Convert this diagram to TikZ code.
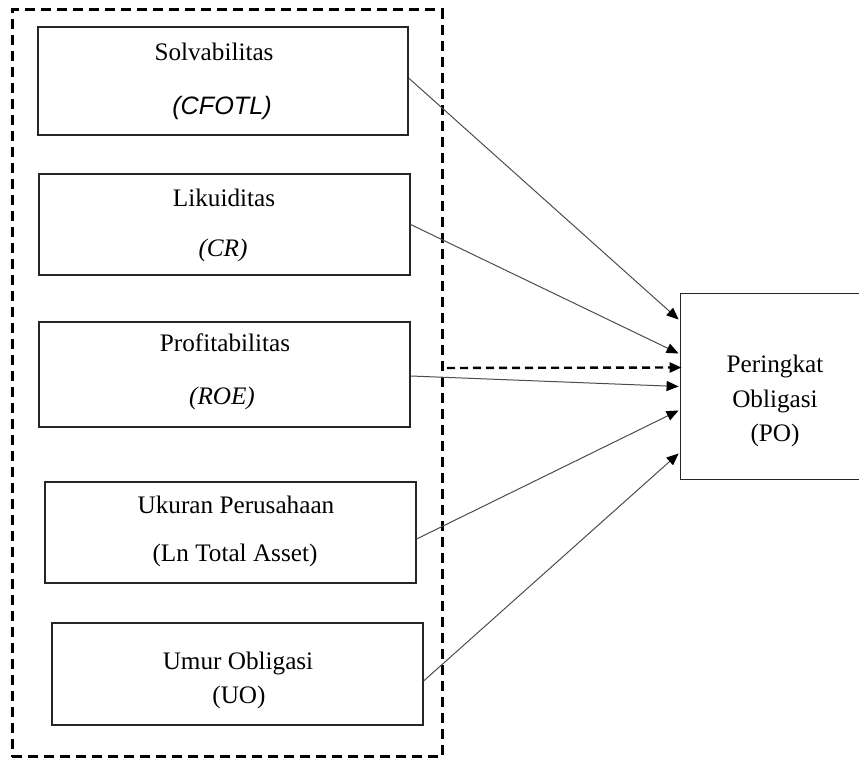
\documentclass[tikz,border=0pt]{standalone}
\usepackage{fontspec}
\setmainfont{Liberation Serif}
\newfontfamily\arialf{Liberation Sans}
\usetikzlibrary{arrows.meta}
\begin{document}
\begin{tikzpicture}[x=0.5pt,y=-0.5pt,
  varbox/.style={draw=black!85, line width=0.6pt, rectangle, inner sep=0pt},
  openbox/.style={rectangle, inner sep=0pt},
  lbl/.style={font=\fontsize{12.6}{15}\selectfont, inner sep=0pt, anchor=center},
  frame/.style={draw=black, line width=1.5pt, dash pattern=on 5pt off 3pt, rectangle, inner sep=0pt},
  conn/.style={draw=black!70, line width=0.5pt, -{Triangle[length=6pt,width=5pt,color=black]}},
  dconn/.style={draw=black, line width=1.2pt, dash pattern=on 4pt off 2.5pt, -{Triangle[length=6pt,width=5pt,color=black]}}
]
\useasboundingbox (0,0) rectangle (859,758);

% dashed frame
\node[frame, minimum width=215pt, minimum height=373.5pt] (fr) at (227,383.5) {};

% variable boxes
\node[varbox, minimum width=185pt, minimum height=54pt] (b1) at (223,81) {};
\node[varbox, minimum width=185.5pt, minimum height=50.5pt] (b2) at (224.5,224.5) {};
\node[varbox, minimum width=185.5pt, minimum height=52.5pt] (b3) at (224.5,374.5) {};
\node[varbox, minimum width=185.5pt, minimum height=50.5pt] (b4) at (230.5,532.5) {};
\node[varbox, minimum width=185.5pt, minimum height=51pt] (b5) at (237.5,674) {};

% labels
\node[lbl] (t1a) at (214,52) {Solvabilitas};
\node[lbl] (t1b) at (222,108) {\arialf\itshape (CFOTL)};
\node[lbl] (t2a) at (224,198) {Likuiditas};
\node[lbl] (t2b) at (223,250) {\itshape (CR)};
\node[lbl] (t3a) at (225,343) {Profitabilitas};
\node[lbl] (t3b) at (222,398) {\itshape (ROE)};
\node[lbl] (t4a) at (236,505) {Ukuran Perusahaan};
\node[lbl] (t4b) at (235,555) {(Ln Total Asset)};
\node[lbl] (t5a) at (238,663) {Umur Obligasi};
\node[lbl] (t5b) at (239,697) {(UO)};

% outcome box (right side runs past the picture edge)
\node[openbox, minimum width=94pt, minimum height=92.5pt] (po) at (775,386.5) {};
\draw[black!85, line width=0.6pt] (po.north east) -- (po.north west) -- (po.south west) -- (po.south east);
\node[lbl] (tpa) at (775,366) {Peringkat};
\node[lbl] (tpb) at (775,401) {Obligasi};
\node[lbl] (tpc) at (775,435) {(PO)};

% connectors
\draw[conn] ([yshift=1.5pt]b1.east) -- ([xshift=-1pt,yshift=33.5pt]po.west);
\draw[conn] (b2.east) -- ([xshift=-1pt,yshift=16.5pt]po.west);
\draw[conn] ([yshift=-0.75pt]b3.east) -- ([xshift=-1pt]po.west);
\draw[conn] ([yshift=-3.25pt]b4.east) -- ([xshift=-1pt,yshift=-12pt]po.west);
\draw[conn] ([yshift=-3.5pt]b5.east) -- ([xshift=-1pt,yshift=-33.5pt]po.west);

\coordinate (ds) at (447,368);
\draw[dconn] (ds) -- ([xshift=0.5pt,yshift=9.5pt]po.west);
\end{tikzpicture}
\end{document}
